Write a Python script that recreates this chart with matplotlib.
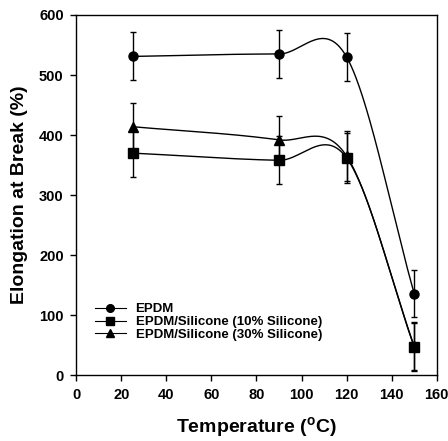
import numpy as np
import matplotlib.pyplot as plt

plt.rcParams['font.family'] = ['Liberation Sans', 'DejaVu Sans']
plt.rcParams['font.weight'] = 'bold'
plt.rcParams['mathtext.fontset'] = 'custom'
plt.rcParams['mathtext.bf'] = 'Liberation Sans:bold'
plt.rcParams['mathtext.rm'] = 'Liberation Sans'

temps = [25, 90, 120, 150]
epdm = [531, 535, 530, 136]
epdm_err = [40, 40, 40, 39]
sil10 = [370, 358, 362, 47]
sil10_err = [40, 40, 42, 40]
sil30 = [414, 392, 365, 48]
sil30_err = [40, 39, 42, 40]

labels = ["EPDM", "EPDM/Silicone (10% Silicone)", "EPDM/Silicone (30% Silicone)"]
markers = ["o", "s", "^"]


def smooth_curve(x, y, n=60):
    # piecewise cubic Hermite (Catmull-Rom style tangents) for the smoothed line
    x = np.asarray(x, float)
    y = np.asarray(y, float)
    m = np.zeros_like(y)
    m[1:-1] = (y[2:] - y[:-2]) / (x[2:] - x[:-2])
    m[0] = (y[1] - y[0]) / (x[1] - x[0])
    m[-1] = (y[-1] - y[-2]) / (x[-1] - x[-2])
    xs_all, ys_all = [], []
    for i in range(len(x) - 1):
        h = x[i + 1] - x[i]
        t = np.linspace(0, 1, n)
        h00 = 2 * t**3 - 3 * t**2 + 1
        h10 = t**3 - 2 * t**2 + t
        h01 = -2 * t**3 + 3 * t**2
        h11 = t**3 - t**2
        xs_all.append(x[i] + t * h)
        ys_all.append(h00 * y[i] + h10 * h * m[i] + h01 * y[i + 1] + h11 * h * m[i + 1])
    return np.concatenate(xs_all), np.concatenate(ys_all)


fig = plt.figure(figsize=(4.48, 4.41), dpi=100)
ax = fig.add_axes([0.170, 0.149, 0.805, 0.817])

for vals, errs, lab, mk in zip([epdm, sil10, sil30], [epdm_err, sil10_err, sil30_err], labels, markers):
    xs, ys = smooth_curve(temps, vals)
    ax.plot(xs, ys, color='black', lw=1.0)
    ax.errorbar(temps, vals, yerr=errs, fmt=mk, color='black', ms=6.5,
                ecolor='black', elinewidth=1.0, capsize=2.5, capthick=1.0)
    ax.plot([], [], color='black', lw=0.8, marker=mk, ms=5.5, label=lab)

ax.set_xlim(0, 160)
ax.set_ylim(0, 600)
ax.set_xticks(range(0, 161, 20))
ax.set_yticks(range(0, 601, 100))
ax.tick_params(direction='out', length=4, width=1, labelsize=10.5, pad=5)
for s in ax.spines.values():
    s.set_linewidth(1.0)
ax.set_xlabel("Temperature ($^{\\mathbf{o}}$C)", fontsize=14, fontweight='bold', labelpad=10)
ax.set_ylabel("Elongation at Break (%)", fontsize=14, fontweight='bold', labelpad=8)

ax.legend(loc='lower left', bbox_to_anchor=(0.053, 0.095), frameon=False,
          handlelength=2.3, labelspacing=0.05, borderpad=0, borderaxespad=0, handletextpad=0.75,
          prop={'weight': 'bold', 'size': 9.5})

fig.savefig("out.png", dpi=100)
